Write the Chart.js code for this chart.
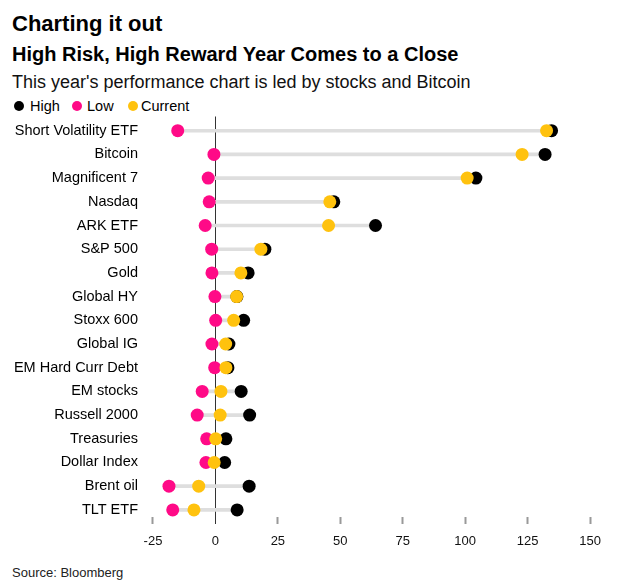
<!DOCTYPE html>
<html>
<head>
<meta charset="utf-8">
<script src="https://cdn.jsdelivr.net/npm/chart.js@4"></script>
<style>
  body { margin: 0; background: #fff; font-family: "Liberation Sans", Arial, sans-serif; color: #000; }
  #wrap { position: relative; width: 644px; height: 586px; overflow: hidden; }
  .txt { position: absolute; left: 12px; line-height: 1; white-space: nowrap; }
  #title { top: 13px; font-size: 22px; font-weight: bold; }
  #subtitle { top: 44px; font-size: 20px; font-weight: bold; }
  #desc { top: 73px; font-size: 18px; color: #111; }
  #legend { top: 99px; font-size: 14.5px; left: 0; }
  #legend span { position: absolute; }
  .dot { width: 10px; height: 10px; border-radius: 50%; top: 2px; }
  #source { top: 566px; font-size: 13px; color: #222; }
  #chartBox { position: absolute; left: 0; top: 110px; }
</style>
</head>
<body>
<div id="wrap">
  <div class="txt" id="title">Charting it out</div>
  <div class="txt" id="subtitle">High Risk, High Reward Year Comes to a Close</div>
  <div class="txt" id="desc">This year's performance chart is led by stocks and Bitcoin</div>
  <div class="txt" id="legend">
    <span class="dot" style="left:14px;background:#000"></span><span style="left:30px">High</span>
    <span class="dot" style="left:72px;background:#ff0a87"></span><span style="left:87px">Low</span>
    <span class="dot" style="left:128px;background:#ffc20e"></span><span style="left:141px">Current</span>
  </div>
  <div id="chartBox"><canvas id="chart" width="644" height="440"></canvas></div>
  <div class="txt" id="source">Source: Bloomberg</div>
</div>
<script>
const categories = ['Short Volatility ETF', 'Bitcoin', 'Magnificent 7', 'Nasdaq', 'ARK ETF', 'S&P 500', 'Gold',
  'Global HY', 'Stoxx 600', 'Global IG', 'EM Hard Curr Debt', 'EM stocks', 'Russell 2000', 'Treasuries',
  'Dollar Index', 'Brent oil', 'TLT ETF'];
const high = [134.6, 132, 104.3, 47.4, 64.1, 19.8, 13.1, 8.6, 11.3, 5.4, 5.0, 10.3, 13.7, 4.2, 3.7, 13.5, 8.7];
const low = [-15.1, -0.6, -2.9, -2.5, -4.1, -1.5, -1.4, -0.2, 0.1, -1.4, -0.3, -5.3, -7.3, -3.5, -3.8, -18.6, -17.1];
const current = [132.6, 122.8, 100.8, 45.8, 45.3, 18.2, 10.2, 8.5, 7.3, 4.1, 4.2, 2.2, 1.9, 0.1, -0.5, -6.7, -8.6];
const xTicks = [-25, 0, 25, 50, 75, 100, 125, 150];

const FONT = '"Liberation Sans", Arial, sans-serif';

function dots(values, color, order) {
    return {
        type: 'line',
        data: values.map((v, i) => ({ x: v, y: i })),
        showLine: false,
        pointRadius: 6.5,
        pointHoverRadius: 6.5,
        pointBorderWidth: 0,
        pointBackgroundColor: color,
        borderColor: color,
        order: order
    };
}

// drop the label overhang padding so the plot area lands where we want it
function noPad(scale) {
    scale.paddingTop = 0;
    scale.paddingBottom = 0;
    scale.paddingLeft = 0;
    scale.paddingRight = 0;
}

const isZero = ctx => ctx.tick && ctx.tick.value === 0;

new Chart(document.getElementById('chart'), {
    type: 'bar',
    data: {
        datasets: [
            dots(current, '#ffc20e', 0),
            dots(low, '#ff0a87', 1),
            dots(high, '#000000', 2),
            {
                type: 'bar',
                data: low.map((v, i) => ({ x: [v, Math.max(high[i], current[i])], y: i })),
                backgroundColor: '#dedede',
                barThickness: 3,
                order: 3
            }
        ]
    },
    options: {
        responsive: false,
        animation: false,
        indexAxis: 'y',
        layout: { padding: { top: 6, right: 29, left: 0, bottom: 0 } },
        plugins: { legend: { display: false }, tooltip: { enabled: false } },
        scales: {
            x: {
                type: 'linear',
                min: -27.8,
                max: 160,
                afterBuildTicks: scale => { scale.ticks = xTicks.map(v => ({ value: v })); },
                afterFit: scale => { scale.height = 33; noPad(scale); },
                border: { display: false },
                grid: {
                    drawOnChartArea: true,
                    color: ctx => isZero(ctx) ? '#333' : 'rgba(0,0,0,0)',
                    tickColor: ctx => isZero(ctx) ? '#333' : '#999',
                    tickWidth: ctx => isZero(ctx) ? 1 : 2,
                    tickLength: 7,
                    lineWidth: 1
                },
                ticks: { color: '#111', font: { family: FONT, size: 13 }, padding: 10 }
            },
            y: {
                type: 'linear',
                reverse: true,
                offset: false,
                min: -0.6,
                max: 16.3,
                afterBuildTicks: scale => { scale.ticks = categories.map((c, i) => ({ value: i })); },
                afterFit: scale => { scale.width = 146; noPad(scale); },
                border: { display: false },
                grid: { display: false, drawTicks: false, offset: false },
                ticks: {
                    autoSkip: false,
                    padding: 8,
                    color: '#000',
                    font: { family: FONT, size: 14.5 },
                    callback: v => categories[v]
                }
            }
        }
    }
});
</script>
</body>
</html>
